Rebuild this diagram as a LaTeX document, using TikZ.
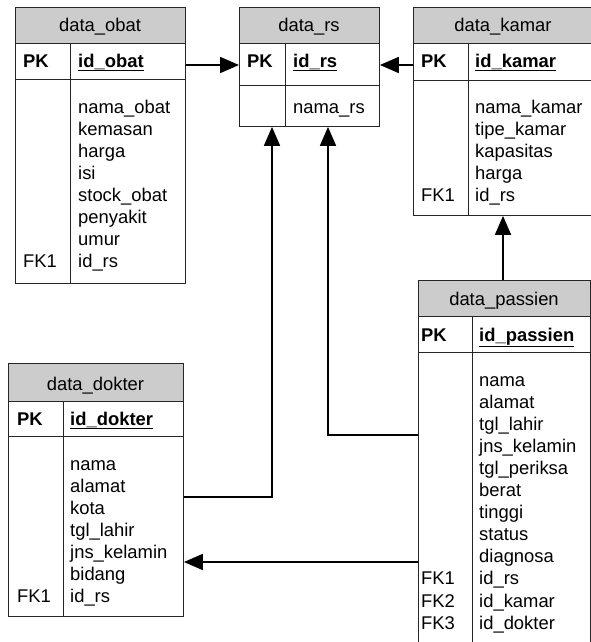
\documentclass[tikz,border=0pt]{standalone}
\usepackage{fontspec}
\setmainfont{Liberation Sans}
\usetikzlibrary{arrows.meta}
\newcommand\erfields[4]{%
  \foreach \t [count=\i from 0] in {#4} {\node[txt] (#1-\i) at (#2, #3+22.1*\i) {\t};}}
\begin{document}
\begin{tikzpicture}[x=1pt,y=-1pt,
  box/.style={draw=black!85, line width=0.9pt, inner sep=0pt, anchor=north west},
  hdr/.style={box, fill=black!20},
  txt/.style={inner sep=0pt, anchor=base west, font=\fontsize{18.4}{22.3}\selectfont},
  ttl/.style={inner sep=0pt, anchor=base, font=\fontsize{18.4}{22.3}\selectfont},
  key/.style={txt, font=\fontsize{18.4}{22.3}\selectfont\bfseries},
  rel/.style={line width=1.8pt, -{Triangle[length=19pt,width=16pt]}}]
\useasboundingbox (0,0) rectangle (591,642);
\clip (0,0) rectangle (591,642);

% ---------- data_obat ----------
\node[box, minimum width=170pt, minimum height=276pt] (obat) at (15,7) {};
\node[hdr, minimum width=170pt, minimum height=36pt] (obat-h) at (15,7) {};
\node[box, minimum width=170pt, minimum height=36pt] (obat-pk) at (15,43) {};
\draw[draw=black!85, line width=0.9pt] (70,43) -- (70,283);
\node[ttl] (obat-t) at (100,32) {data\_obat};
\node[key] (obat-pkl) at (23,67) {PK};
\node[key] (obat-id) at (78,67) {\underline{id\_obat}};
\erfields{obatf}{78}{113}{nama\_obat,kemasan,harga,isi,stock\_obat,penyakit,umur,id\_rs}
\node[txt] (obat-fk) at (23,267.7) {FK1};

% ---------- data_rs ----------
\node[box, minimum width=140pt, minimum height=119pt] (rs) at (239,7) {};
\node[hdr, minimum width=140pt, minimum height=36pt] (rs-h) at (239,7) {};
\node[box, minimum width=140pt, minimum height=42pt] (rspk) at (239,43) {};
\draw[draw=black!85, line width=0.9pt] (285,43) -- (285,126);
\node[ttl] (rs-t) at (309,32) {data\_rs};
\node[key] (rs-pkl) at (247,67) {PK};
\node[key] (rs-id) at (293,67) {\underline{id\_rs}};
\node[txt] (rs-f) at (293,113) {nama\_rs};

% ---------- data_kamar ----------
\node[box, minimum width=186pt, minimum height=208pt] (kamar) at (413,7) {};
\node[hdr, minimum width=186pt, minimum height=36pt] (kamar-h) at (413,7) {};
\node[box, minimum width=186pt, minimum height=37pt] (kamar-pk) at (413,43) {};
\draw[draw=black!85, line width=0.9pt] (468,43) -- (468,215);
\node[ttl] (kamar-t) at (503,32) {data\_kamar};
\node[key] (kamar-pkl) at (421,67) {PK};
\node[key] (kamar-id) at (475,67) {\underline{id\_kamar}};
\erfields{kamarf}{475}{113}{nama\_kamar,tipe\_kamar,kapasitas,harga,id\_rs}
\node[txt] (kamar-fk) at (421,201.4) {FK1};

% ---------- data_passien ----------
\node[box, minimum width=172pt, minimum height=380pt] (passien) at (418,280) {};
\node[hdr, minimum width=172pt, minimum height=36pt] (passien-h) at (418,280) {};
\node[box, minimum width=172pt, minimum height=36pt] (passien-pk) at (418,316) {};
\draw[draw=black!85, line width=0.9pt] (472,316) -- (472,660);
\node[ttl] (passien-t) at (504,305) {data\_passien};
\node[key] (passien-pkl) at (421,341) {PK};
\node[key] (passien-id) at (479,341) {\underline{id\_passien}};
\erfields{passienf}{479}{386}{nama,alamat,tgl\_lahir,jns\_kelamin,tgl\_periksa,berat,tinggi,status,diagnosa,id\_rs,id\_kamar,id\_dokter}
\node[txt] (passien-fk1) at (421,584.9) {FK1};
\node[txt] (passien-fk2) at (421,607.0) {FK2};
\node[txt] (passien-fk3) at (421,629.1) {FK3};

% ---------- data_dokter ----------
\node[box, minimum width=175pt, minimum height=253pt] (dokter) at (8,363) {};
\node[hdr, minimum width=175pt, minimum height=38pt] (dokter-h) at (8,363) {};
\node[box, minimum width=175pt, minimum height=35pt] (dokter-pk) at (8,401) {};
\draw[draw=black!85, line width=0.9pt] (63,401) -- (63,616);
\node[ttl] (dokter-t) at (95.5,390) {data\_dokter};
\node[key] (dokter-pkl) at (17,425) {PK};
\node[key] (dokter-id) at (70,425) {\underline{id\_dokter}};
\erfields{dokterf}{70}{470}{nama,alamat,kota,tgl\_lahir,jns\_kelamin,bidang,id\_rs}
\node[txt] (dokter-fk) at (17,602.6) {FK1};

% ---------- relations ----------
\coordinate (ry) at (0,65);
\coordinate (c1) at (272,497);
\coordinate (c2) at (328,435);
\coordinate (c3) at (0,562);
\coordinate (c4) at (503,0);
\draw[rel] (obat.east |- ry) -- (rs.west |- ry);
\draw[rel] (kamar.west |- ry) -- (rs.east |- ry);
\draw[rel] (dokter.east |- c1) -- (c1) -- (c1 |- rs.south);
\draw[rel] (passien.west |- c2) -- (c2) -- (c2 |- rs.south);
\draw[rel] (c4 |- passien.north) -- (c4 |- kamar.south);
\draw[rel] (passien.west |- c3) -- (dokter.east |- c3);
\end{tikzpicture}
\end{document}
